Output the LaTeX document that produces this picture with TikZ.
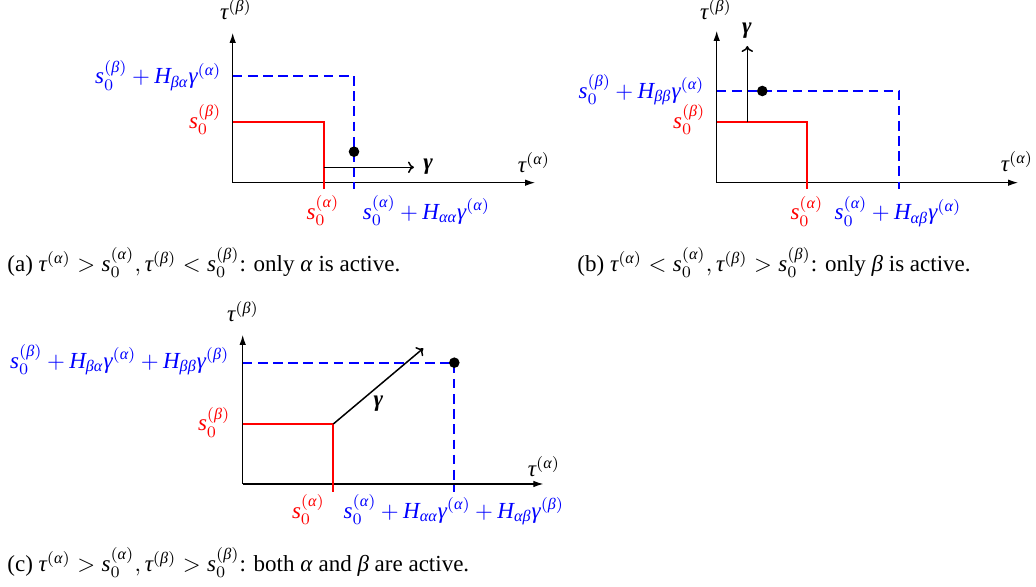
\documentclass[tikz,border=0pt]{standalone}
\usepackage{amsmath}
\usepackage{fontspec}
\setmainfont{Liberation Serif}
\usetikzlibrary{arrows.meta}
\newcommand\mi[1]{\text{\itshape #1}}
\newcommand\bgam{\text{\bfseries\itshape γ}}
\newcommand\labfont{\fontsize{10}{12}\selectfont\medmuskip=3.4mu plus 2mu minus 2mu\relax}
\tikzset{
  axis/.style={draw=black, line width=0.45pt, -{Latex[length=4.3pt,width=2.8pt]}},
  redline/.style={draw=red, line width=0.9pt},
  blueline/.style={draw=blue, line width=0.9pt, dash pattern=on 4.2pt off 2.4pt},
  garrow/.style={draw=black, line width=0.65pt, -{To[length=2.6pt,width=5pt]}},
  dotmark/.style={circle, fill=black, inner sep=0pt, minimum size=4.6pt},
  lab/.style={inner sep=0pt, font=\labfont},
}
\begin{document}
\begin{tikzpicture}[x=0.4348pt,y=-0.4348pt]
\useasboundingbox (0,0) rectangle (1036,587);

% ---------------- panel (a)
\coordinate (aO) at (232.7,182.7);
\coordinate (aY) at (232.7,33);
\coordinate (aX) at (535,182.7);
\draw[axis] (aO) -- (aY);
\draw[axis] (aO) -- (aX);
\coordinate (aR1) at (232.7,121.7);
\coordinate (aR2) at (324,121.7);
\coordinate (aR3) at (324,189);
\draw[redline] (aR1) -- (aR2) -- (aR3);
\coordinate (aB1) at (232.7,76);
\coordinate (aB2) at (354,76);
\coordinate (aB3) at (354,189);
\draw[blueline] (aB1) -- (aB2) -- (aB3);
\node[dotmark] (aD) at (354,151.7) {};
\coordinate (aG1) at (324,167.3);
\coordinate (aG2) at (414,167.3);
\draw[garrow] (aG1) -- (aG2);
\node[lab, anchor=west] (aGl) at (423,166.5) {$\bgam$};
\node[lab, anchor=base] (aTx) at (534,172.7) {$\mi{τ}^{(\mi{α})}$};
\node[lab, anchor=base] (aTy) at (236,19.5) {$\mi{τ}^{(\mi{β})}$};
\node[lab, anchor=base east, text=blue] (aLb) at (222,84) {$\mi{s}_0^{(\mi{β})} + \mi{H}_{\mi{βα}}\mi{γ}^{(\mi{α})}$};
\node[lab, anchor=base east, text=red] (aLr) at (222,128.3) {$\mi{s}_0^{(\mi{β})}$};
\node[lab, anchor=base, text=red] (aBr) at (323,219.3) {$\mi{s}_0^{(\mi{α})}$};
\node[lab, anchor=base west, text=blue] (aBb) at (362.5,219.3) {$\mi{s}_0^{(\mi{α})} + \mi{H}_{\mi{αα}}\mi{γ}^{(\mi{α})}$};
\node[lab, anchor=base west] (capa) at (7,271.7) {(a) $\mi{τ}^{(\mi{α})} > \mi{s}_0^{(\mi{α})}, \mi{τ}^{(\mi{β})} < \mi{s}_0^{(\mi{β})}$: only \textit{α} is active.};

% ---------------- panel (b)
\coordinate (bO) at (716.7,182.7);
\coordinate (bY) at (716.7,31);
\coordinate (bX) at (1018,182.7);
\draw[axis] (bO) -- (bY);
\draw[axis] (bO) -- (bX);
\coordinate (bR1) at (716.7,121.7);
\coordinate (bR2) at (807.3,121.7);
\coordinate (bR3) at (807.3,189);
\draw[redline] (bR1) -- (bR2) -- (bR3);
\coordinate (bB1) at (716.7,91);
\coordinate (bB2) at (899.3,91);
\coordinate (bB3) at (899.3,189);
\draw[blueline] (bB1) -- (bB2) -- (bB3);
\node[dotmark] (bD) at (762.3,91) {};
\coordinate (bG1) at (747.3,121.7);
\coordinate (bG2) at (747.3,46);
\draw[garrow] (bG1) -- (bG2);
\node[lab] (bGl) at (747,30.5) {$\bgam$};
\node[lab, anchor=base] (bTx) at (1017,171.7) {$\mi{τ}^{(\mi{α})}$};
\node[lab, anchor=base] (bTy) at (716,19.5) {$\mi{τ}^{(\mi{β})}$};
\node[lab, anchor=base east, text=blue] (bLb) at (705,98.3) {$\mi{s}_0^{(\mi{β})} + \mi{H}_{\mi{ββ}}\mi{γ}^{(\mi{α})}$};
\node[lab, anchor=base east, text=red] (bLr) at (706,128.3) {$\mi{s}_0^{(\mi{β})}$};
\node[lab, anchor=base, text=red] (bBr) at (807,220) {$\mi{s}_0^{(\mi{α})}$};
\node[lab, anchor=base, text=blue] (bBb) at (898,220) {$\mi{s}_0^{(\mi{α})} + \mi{H}_{\mi{αβ}}\mi{γ}^{(\mi{α})}$};
\node[lab, anchor=base west] (capb) at (577,271.7) {(b) $\mi{τ}^{(\mi{α})} < \mi{s}_0^{(\mi{α})}, \mi{τ}^{(\mi{β})} > \mi{s}_0^{(\mi{β})}$: only \textit{β} is active.};

% ---------------- panel (c)
\coordinate (cO) at (242.7,484);
\coordinate (cY) at (242.7,335);
\coordinate (cX) at (543.3,484);
\draw[axis] (cO) -- (cY);
\draw[axis] (cO) -- (cX);
\coordinate (cR1) at (242.7,424);
\coordinate (cR2) at (333.3,424);
\coordinate (cR3) at (333.3,491.7);
\draw[redline] (cR1) -- (cR2) -- (cR3);
\coordinate (cB1) at (242.7,362.7);
\coordinate (cB2) at (454.3,362.7);
\coordinate (cB3) at (454.3,491.7);
\draw[blueline] (cB1) -- (cB2) -- (cB3);
\node[dotmark] (cD) at (454.3,362.7) {};
\coordinate (cG2) at (423.3,348.3);
\draw[garrow] (cR2) -- (cG2);
\node[lab] (cGl) at (378.3,403.5) {$\bgam$};
\node[lab, anchor=base] (cTx) at (544,476.7) {$\mi{τ}^{(\mi{α})}$};
\node[lab, anchor=base] (cTy) at (243,321.7) {$\mi{τ}^{(\mi{β})}$};
\node[lab, anchor=base east, text=blue] (cLb) at (230,368.3) {$\mi{s}_0^{(\mi{β})} + \mi{H}_{\mi{βα}}\mi{γ}^{(\mi{α})} + \mi{H}_{\mi{ββ}}\mi{γ}^{(\mi{β})}$};
\node[lab, anchor=base east, text=red] (cLr) at (231,431) {$\mi{s}_0^{(\mi{β})}$};
\node[lab, anchor=base, text=red] (cBr) at (308.5,518.3) {$\mi{s}_0^{(\mi{α})}$};
\node[lab, anchor=base, text=blue] (cBb) at (454,518.3) {$\mi{s}_0^{(\mi{α})} + \mi{H}_{\mi{αα}}\mi{γ}^{(\mi{α})} + \mi{H}_{\mi{αβ}}\mi{γ}^{(\mi{β})}$};
\node[lab, anchor=base west] (capc) at (7,571.7) {(c) $\mi{τ}^{(\mi{α})} > \mi{s}_0^{(\mi{α})}, \mi{τ}^{(\mi{β})} > \mi{s}_0^{(\mi{β})}$: both \textit{α} and \textit{β} are active.};
\end{tikzpicture}
\end{document}
